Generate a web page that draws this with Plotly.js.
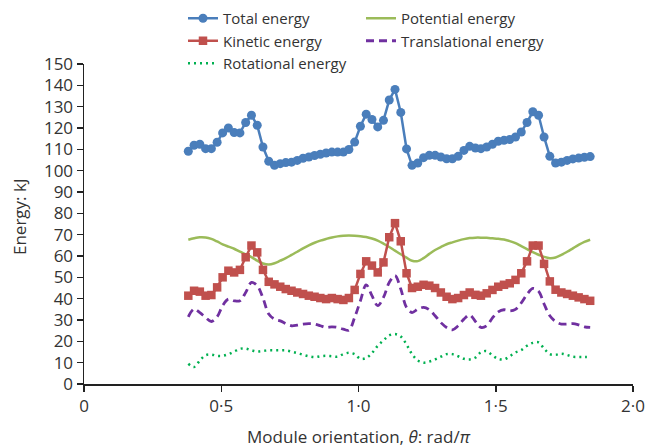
<!DOCTYPE html>
<html>
<head>
<meta charset="utf-8">
<script src="https://cdn.plot.ly/plotly-3.0.1.min.js"></script>
<style>html,body{margin:0;padding:0;background:#fff;}#chart{width:647px;height:448px;}</style>
</head>
<body>
<div id="chart"></div>
<script>
const theta = [0.380,0.401,0.422,0.443,0.464,0.485,0.505,0.526,0.547,0.568,0.589,0.610,0.631,0.652,0.673,0.694,0.715,0.735,0.756,0.777,0.798,0.819,0.840,0.861,0.882,0.903,0.924,0.945,0.965,0.986,1.007,1.028,1.049,1.070,1.091,1.112,1.133,1.154,1.175,1.195,1.216,1.237,1.258,1.279,1.300,1.321,1.342,1.363,1.384,1.405,1.426,1.446,1.467,1.488,1.509,1.530,1.551,1.572,1.593,1.614,1.635,1.656,1.676,1.697,1.718,1.739,1.760,1.781,1.802,1.823,1.844];

const totalEnergy = [109.1,111.9,112.4,110.3,110.3,113.3,117.7,120.0,117.9,117.7,122.6,126.0,121.3,111.1,104.4,102.5,103.3,103.8,104.0,104.8,105.8,106.4,107.1,107.7,108.3,
  108.7,108.7,108.7,109.9,113.4,120.8,126.5,124.0,120.5,123.6,133.1,138.1,127.3,110.2,102.5,103.6,106.1,107.2,107.2,106.4,105.6,105.6,106.7,109.5,111.4,
  110.6,110.3,111.1,112.4,113.8,114.2,114.6,115.8,118.1,122.6,127.6,126.0,115.8,106.7,103.6,104.0,104.8,105.5,105.9,106.3,106.6];

const potentialEnergy = [67.6,68.3,68.8,68.7,68.0,66.8,65.5,64.4,63.4,62.0,60.8,59.5,57.8,56.5,56.0,56.6,57.8,59.0,60.5,62.0,63.6,65.0,66.2,67.2,68.0,
  68.7,69.2,69.5,69.6,69.5,69.3,68.9,68.2,67.2,65.8,64.2,62.5,60.8,59.2,57.8,57.6,59.0,61.0,62.8,64.2,65.5,66.4,67.2,67.9,68.4,
  68.6,68.6,68.5,68.3,68.1,67.7,67.0,66.0,64.6,63.2,61.8,60.6,59.6,59.0,59.3,60.5,62.0,63.6,65.2,66.6,67.6];

const kineticEnergy = [41.4,43.7,43.3,41.4,41.7,45.3,50.0,53.1,52.3,53.5,59.4,64.9,61.7,53.5,47.9,46.7,45.6,44.5,43.7,42.9,42.2,41.4,40.9,40.3,39.8,
  40.3,39.8,39.4,40.3,44.1,51.6,57.5,55.5,52.3,57.0,68.8,75.4,66.9,51.9,45.0,45.6,46.5,46.1,45.0,42.9,40.9,39.8,40.3,41.7,42.9,
  41.8,41.4,42.5,44.1,45.6,46.5,47.2,48.8,51.9,57.5,64.9,64.9,56.3,48.1,44.2,42.9,42.2,41.4,40.6,39.8,39.0];

const translationalEnergy = [31.5,35.1,33.5,31.2,29.3,31.5,36.7,39.8,39.0,39.0,42.9,47.6,46.1,40.3,32.8,30.4,29.6,28.3,27.3,27.6,28.1,28.3,28.1,27.3,26.5,
  26.8,26.5,25.7,25.2,31.2,39.0,46.5,41.4,36.7,40.6,47.6,50.8,44.5,35.9,33.5,35.1,35.9,34.8,32.0,28.8,26.5,25.4,27.3,30.4,32.4,
  29.3,26.5,27.3,31.0,33.8,34.8,34.3,35.0,38.0,42.0,44.8,43.5,37.5,32.0,29.3,28.1,28.1,28.3,27.7,26.8,26.5];

const rotationalEnergy = [9.5,8.0,11.0,13.5,13.8,13.2,13.2,14.0,15.2,16.5,16.6,15.8,15.2,15.5,15.8,15.8,15.8,15.8,15.2,14.5,13.7,13.0,12.6,13.0,13.2,
  13.0,12.8,14.0,14.6,14.0,11.8,12.2,14.5,17.9,20.5,22.8,23.4,22.3,18.5,14.0,11.0,10.0,10.5,11.5,12.8,14.0,14.0,13.0,11.8,11.5,
  12.4,14.9,15.4,13.4,11.8,11.5,13.0,14.8,15.9,17.9,19.3,19.5,16.6,14.0,13.7,14.2,13.6,12.8,12.7,12.7,12.7];

const xTickVals = [0, 0.5, 1, 1.5, 2];
const xTickText = ['0', '0·5', '1·0', '1·5', '2·0'];
const yTickVals = [0,10,20,30,40,50,60,70,80,90,100,110,120,130,140,150];
const yTitle = 'Energy: kJ';
const xTitle = 'Module orientation, <i>θ</i>: rad/<i>π</i>';

const FONT = '"Open Sans", "Noto Sans", sans-serif';
const TXT = '#333333';

const traces = [
  {x: theta, y: totalEnergy, name: 'Total energy', type: 'scatter', mode: 'lines+markers',
   line: {color: '#4A7EBB', width: 2.5}, marker: {symbol: 'circle', size: 9, color: '#4A7EBB'}, legend: 'legend'},
  {x: theta, y: potentialEnergy, name: 'Potential energy', type: 'scatter', mode: 'lines',
   line: {color: '#9BBB59', width: 2.5, shape: 'spline'}, legend: 'legend2'},
  {x: theta, y: kineticEnergy, name: 'Kinetic energy', type: 'scatter', mode: 'lines+markers',
   line: {color: '#C0504D', width: 2.5}, marker: {symbol: 'square', size: 8.5, color: '#C0504D'}, legend: 'legend'},
  {x: theta, y: translationalEnergy, name: 'Translational energy', type: 'scatter', mode: 'lines',
   line: {color: '#7030A0', width: 2.8, dash: '8px,5px', shape: 'spline'}, legend: 'legend2'},
  {x: theta, y: rotationalEnergy, name: 'Rotational energy', type: 'scatter', mode: 'lines',
   line: {color: '#00B050', width: 2.5, dash: '2px,4px', shape: 'spline'}, legend: 'legend'}
];

const legendCommon = {xref: 'container', yref: 'container', xanchor: 'left', yanchor: 'top',
  orientation: 'v', bgcolor: 'rgba(0,0,0,0)', font: {family: FONT, size: 15, color: TXT},
  tracegroupgap: 0, itemwidth: 30};

const layout = {
  width: 647, height: 448,
  margin: {l: 84, r: 14, t: 64, b: 64, autoexpand: false},
  paper_bgcolor: '#ffffff', plot_bgcolor: '#ffffff',
  font: {family: FONT, color: TXT, size: 16},
  showlegend: true,
  legend: Object.assign({x: 183/647, y: 1 - 2/448}, legendCommon),
  legend2: Object.assign({x: 361/647, y: 1 - 2/448}, legendCommon),
  xaxis: {
    range: [0, 2], tickvals: xTickVals, ticktext: xTickText,
    showgrid: false, zeroline: false, showline: true, linecolor: '#222', linewidth: 1.5,
    ticks: 'outside', ticklen: 6, tickcolor: '#222', tickwidth: 1.5,
    tickfont: {family: FONT, size: 17, color: TXT},
    title: {text: xTitle, font: {family: FONT, size: 17, color: TXT}}
  },
  yaxis: {
    range: [0, 150], tickvals: yTickVals,
    showgrid: false, zeroline: false, showline: true, linecolor: '#222', linewidth: 1.5,
    ticks: 'outside', ticklen: 6, tickcolor: '#222', tickwidth: 1.5,
    tickfont: {family: FONT, size: 17, color: TXT}
  },
  annotations: [{
    text: yTitle, xref: 'paper', yref: 'paper', x: (19 - 84) / 549, y: (384 - 217) / 320,
    xanchor: 'center', yanchor: 'middle', textangle: -90, showarrow: false,
    font: {family: FONT, size: 17, color: TXT}
  }]
};

Plotly.newPlot('chart', traces, layout, {displayModeBar: false, staticPlot: true});
</script>
</body>
</html>
